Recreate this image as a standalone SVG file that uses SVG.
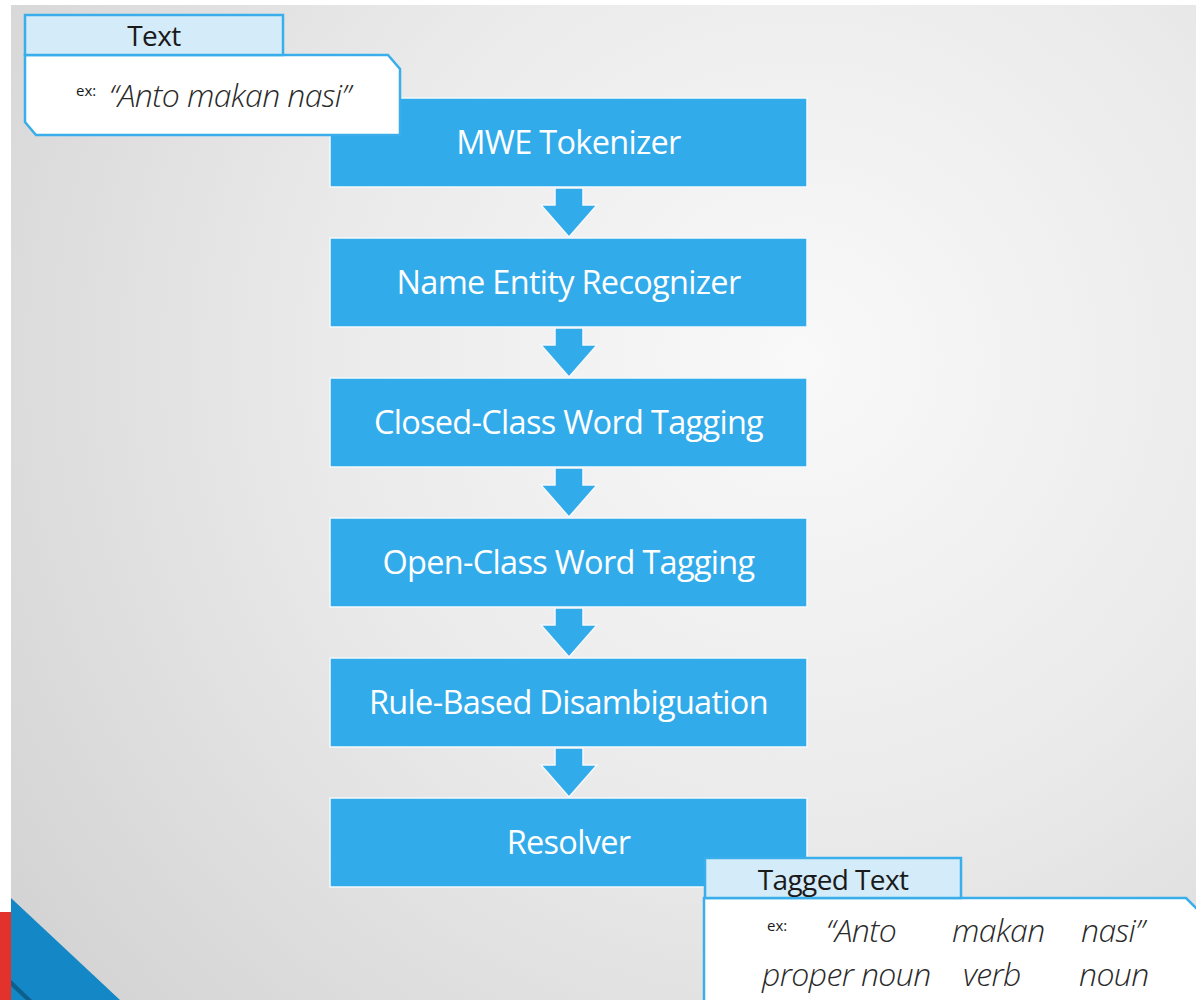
<svg xmlns="http://www.w3.org/2000/svg" width="1196" height="1000" viewBox="0 0 1196 1000">
  <defs>
    <radialGradient id="bg" cx="800" cy="360" r="950" gradientUnits="userSpaceOnUse">
      <stop offset="0" stop-color="#f9f9f9"/>
      <stop offset="0.5" stop-color="#eaeaea"/>
      <stop offset="1" stop-color="#d4d4d4"/>
    </radialGradient>
    <style>
      .step { fill: #32abeb; stroke: #f4f9fc; stroke-width: 1.5; }
      .steptxt { fill: #ffffff; font-family: "Open Sans", "Noto Sans", sans-serif; font-size: 32.5px; text-anchor: middle; letter-spacing: -0.7px; }
      .arrow { fill: #32abeb; stroke: #f4f9fc; stroke-width: 1.5; stroke-linejoin: miter; }
      .hdr { fill: #d4ebf9; stroke: #3aaeea; stroke-width: 2.5; }
      .body { fill: #ffffff; stroke: #3aaeea; stroke-width: 2.5; }
      .hdrtxt { fill: #1a1a1a; font-family: "Open Sans", "Noto Sans", sans-serif; font-size: 28px; text-anchor: middle; letter-spacing: -0.6px; }
      .ex { fill: #1a1a1a; font-family: "Open Sans", "Noto Sans", sans-serif; font-size: 15px; }
      .it { fill: #2a2a2a; font-family: "Open Sans", "Noto Sans", sans-serif; font-size: 32px; font-style: italic; font-weight: 300; letter-spacing: -0.6px; }
    </style>
  </defs>

  <rect x="0" y="0" width="1196" height="1000" fill="#ffffff"/>
  <rect x="11" y="5" width="1185" height="995" fill="url(#bg)"/>

  <!-- bottom-left decoration -->
  <rect x="0" y="912" width="11" height="88" fill="#e3322c"/>
  <polygon points="11,898 120,1000 11,1000" fill="#1487c6"/>
  <polygon points="11,980 32,1000 26,1000 11,986" fill="#0d5f8c"/>

  <g id="connectors">
    <polygon class="arrow" points="555,188 583,188 583,205 597,205 569,237 541,205 555,205"/>
    <polygon class="arrow" points="555,328 583,328 583,345 597,345 569,377 541,345 555,345"/>
    <polygon class="arrow" points="555,468 583,468 583,485 597,485 569,517 541,485 555,485"/>
    <polygon class="arrow" points="555,608 583,608 583,625 597,625 569,657 541,625 555,625"/>
    <polygon class="arrow" points="555,748 583,748 583,765 597,765 569,797 541,765 555,765"/>
  </g>

  <g id="mwe-tokenizer">
    <rect class="step" x="330" y="98" width="477" height="89"/>
    <text class="steptxt" x="568.5" y="154">MWE Tokenizer</text>
  </g>
  <g id="name-entity-recognizer">
    <rect class="step" x="330" y="238" width="477" height="89"/>
    <text class="steptxt" x="568.5" y="294">Name Entity Recognizer</text>
  </g>
  <g id="closed-class-word-tagging">
    <rect class="step" x="330" y="378" width="477" height="89"/>
    <text class="steptxt" x="568.5" y="434">Closed-Class Word Tagging</text>
  </g>
  <g id="open-class-word-tagging">
    <rect class="step" x="330" y="518" width="477" height="89"/>
    <text class="steptxt" x="568.5" y="574">Open-Class Word Tagging</text>
  </g>
  <g id="rule-based-disambiguation">
    <rect class="step" x="330" y="658" width="477" height="89"/>
    <text class="steptxt" x="568.5" y="714">Rule-Based Disambiguation</text>
  </g>
  <g id="resolver">
    <rect class="step" x="330" y="798" width="477" height="89"/>
    <text class="steptxt" x="568.5" y="854">Resolver</text>
  </g>

  <g id="text-input">
    <path class="body" d="M25,55 L388,55 L400,69 L400,135 L36,135 L25,122 Z"/>
    <rect class="hdr" x="25" y="15" width="258" height="40"/>
    <text class="hdrtxt" x="154" y="46">Text</text>
    <text class="ex" x="76" y="96">ex:</text>
    <text class="it" x="109" y="107">“Anto makan nasi”</text>
  </g>

  <g id="tagged-text">
    <path class="body" d="M704,898 L1186,898 L1200,912 L1200,1010 L704,1010 Z"/>
    <rect class="hdr" x="705" y="858" width="256" height="40"/>
    <text class="hdrtxt" x="833" y="890">Tagged Text</text>
    <text class="ex" x="767" y="931">ex:</text>
    <text class="it" x="826" y="942">“Anto</text>
    <text class="it" x="952" y="942">makan</text>
    <text class="it" x="1081" y="942">nasi”</text>
    <text class="it" x="762" y="986">proper noun</text>
    <text class="it" x="963" y="986">verb</text>
    <text class="it" x="1079" y="986">noun</text>
  </g>
</svg>
